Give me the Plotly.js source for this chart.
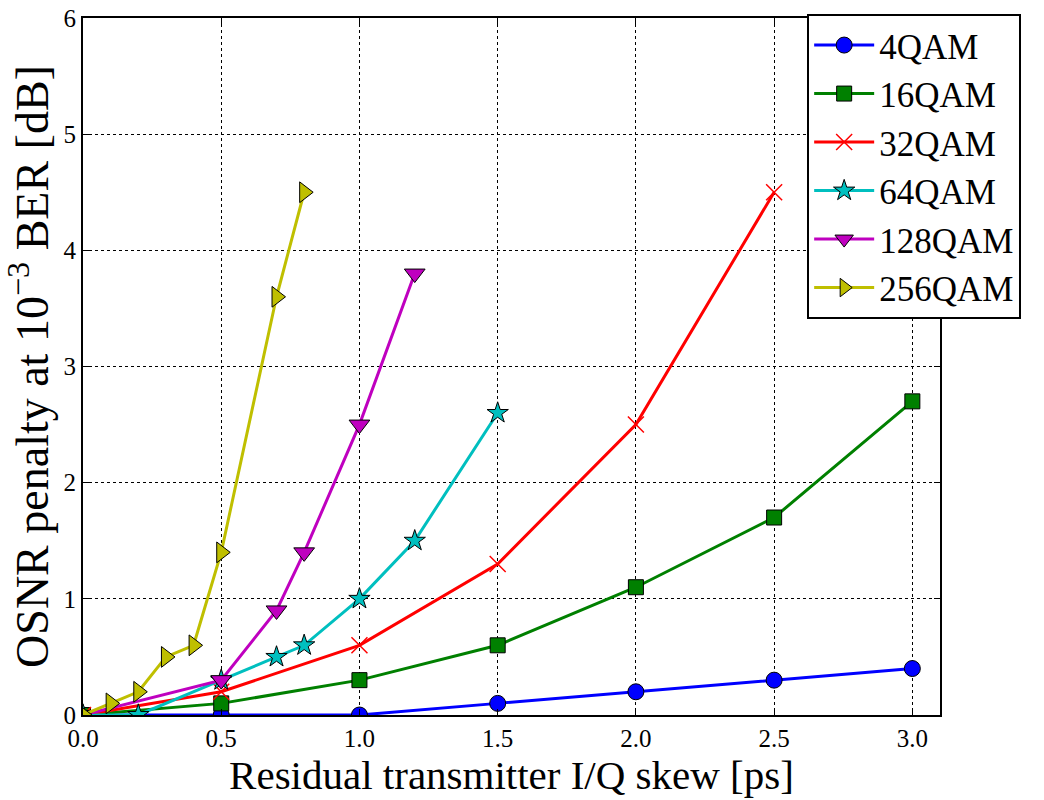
<!DOCTYPE html>
<html>
<head>
<meta charset="utf-8">
<script src="https://cdn.plot.ly/plotly-3.0.1.min.js"></script>
<style>html,body{margin:0;padding:0;background:#fff;}#chart{width:1044px;height:800px;}</style>
</head>
<body>
<div id="chart"></div>
<script>
const seriesNames = ["4QAM","16QAM","32QAM","64QAM","128QAM","256QAM"];
const x4 = [0,0.5,1.0,1.5,2.0,2.5,3.0];
const y4 = [0,0,0,0.1,0.2,0.3,0.4];
const x16 = [0,0.5,1.0,1.5,2.0,2.5,3.0];
const y16 = [0,0.1,0.3,0.6,1.1,1.7,2.7];
const x32 = [0,0.5,1.0,1.5,2.0,2.5];
const y32 = [0,0.2,0.6,1.3,2.5,4.5];
const x64 = [0,0.2,0.5,0.7,0.8,1.0,1.2,1.5];
const y64 = [0,0,0.3,0.5,0.6,1.0,1.5,2.6];
const x128 = [0,0.5,0.7,0.8,1.0,1.2];
const y128 = [0,0.3,0.9,1.4,2.5,3.8];
const x256 = [0,0.1,0.2,0.3,0.4,0.5,0.7,0.8];
const y256 = [0,0.1,0.2,0.5,0.6,1.4,3.6,4.5];
const xTicks = [0,0.5,1.0,1.5,2.0,2.5,3.0];
const yTicks = [0,1,2,3,4,5,6];

const colors = ["#0000ff","#008000","#ff0000","#00bfbf","#bf00bf","#bfbf00"];
const symbols = ["circle","square","x-thin-open","star","triangle-down","triangle-right"];
const sizes = [16,15,16,16,18,18];
const xs = [x4,x16,x32,x64,x128,x256];
const ys = [y4,y16,y32,y64,y128,y256];

const traces = seriesNames.map((n,i)=>({
  x: xs[i], y: ys[i], name: n, type:'scatter', mode:'lines+markers',
  line:{color:colors[i], width:3},
  marker:{symbol:symbols[i], size:sizes[i], color:colors[i],
          line:{color: i===2 ? colors[i] : '#000', width: i===2 ? 1.5 : 1}}
}));

const font = '"Liberation Serif", "Times New Roman", serif';
const layout = {
  width:1044, height:800,
  margin:{l:83, r:104, t:18, b:85},
  paper_bgcolor:'#fff', plot_bgcolor:'#fff',
  font:{family:font, color:'#000'},
  xaxis:{range:[0,3.1], tickvals:xTicks, ticktext:xTicks.map(v=>v.toFixed(1)),
    showgrid:true, gridcolor:'#000', griddash:'dot', gridwidth:1,
    showline:true, linecolor:'#000', linewidth:2, mirror:'ticks',
    ticks:'inside', ticklen:6, tickcolor:'#000', zeroline:false,
    tickfont:{size:25, family:font},
    title:{text:'Residual transmitter I/Q skew [ps]', font:{size:41, family:font}, standoff:4}},
  yaxis:{range:[0,6], tickvals:yTicks,
    showgrid:true, gridcolor:'#000', griddash:'dot', gridwidth:1,
    showline:true, linecolor:'#000', linewidth:2, mirror:'ticks',
    ticks:'inside', ticklen:6, tickcolor:'#000', zeroline:false,
    tickfont:{size:25, family:font},
    title:{text:'OSNR penalty at 10<sup>−3</sup> BER [dB]', font:{size:46, family:font}, standoff:2}},
  showlegend:true,
  legend:{x:0.845, y:1.006, xanchor:'left', yanchor:'top',
    bgcolor:'#fff', bordercolor:'#000', borderwidth:2,
    font:{size:35, family:font}, itemwidth:60, tracegroupgap:0}
};
Plotly.newPlot('chart', traces, layout, {displayModeBar:false});
</script>
</body>
</html>
